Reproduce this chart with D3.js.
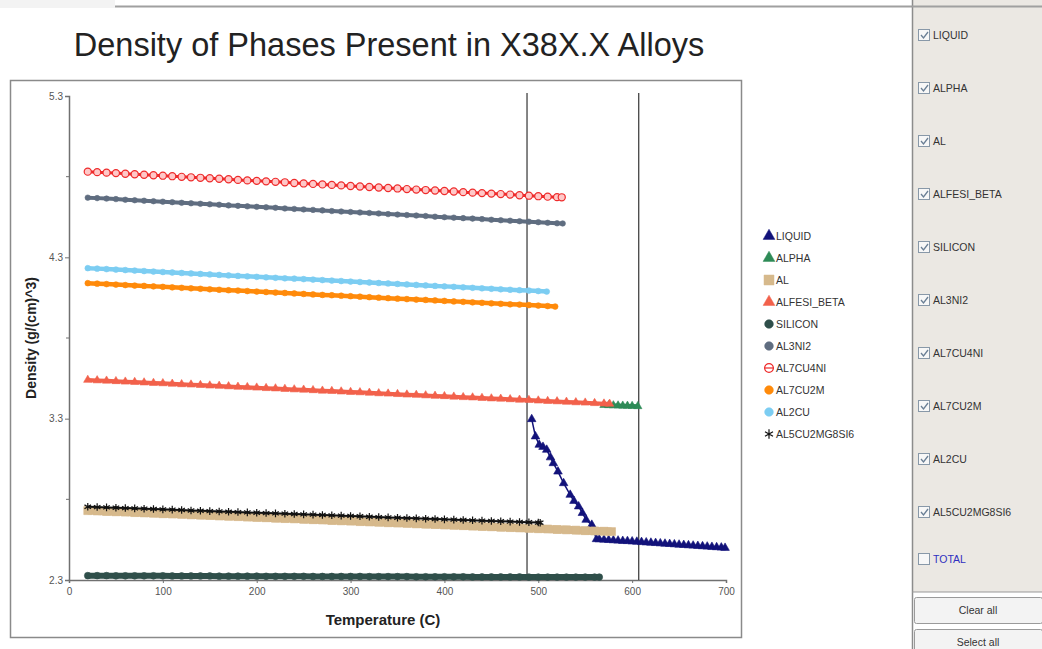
<!DOCTYPE html>
<html>
<head>
<meta charset="utf-8">
<script src="https://cdn.jsdelivr.net/npm/d3@7"></script>
<style>
  html, body { margin: 0; padding: 0; background: #ffffff; }
  svg { display: block; font-family: Arial, "Liberation Sans", sans-serif; }
</style>
</head>
<body>
<svg id="chart" width="1042" height="649"></svg>
<script>
// Phase densities (g/cm^3) versus temperature (C), as [temperature, density] pairs.
const liquid = [[493,3.297],[497,3.190],[501,3.138],[505,3.125],[509,3.107],[513,3.060],[516,3.024],[521,2.972],[527,2.900],[534,2.828],[538,2.790],[543,2.756],[547,2.715],[551,2.673],[557,2.642],[562,2.553],[565,2.552],[570,2.550],[575,2.548],[580,2.546],[585,2.544],[590,2.542],[595,2.541],[600,2.539],[605,2.537],[610,2.535],[615,2.533],[620,2.531],[625,2.529],[630,2.527],[635,2.525],[640,2.523],[645,2.521],[650,2.519],[655,2.517],[660,2.515],[665,2.513],[670,2.511],[675,2.509],[680,2.507],[685,2.505],[690,2.503],[695,2.501],[699,2.499]];
const alpha = [[570,3.384],[575,3.383],[580,3.382],[585,3.381],[590,3.380],[595,3.379],[600,3.378],[606,3.377]];
const al = [[20,2.730],[30,2.728],[40,2.725],[50,2.723],[60,2.721],[70,2.718],[80,2.716],[90,2.714],[100,2.711],[110,2.709],[120,2.707],[130,2.704],[140,2.702],[150,2.700],[160,2.697],[170,2.695],[180,2.693],[190,2.690],[200,2.688],[210,2.686],[220,2.683],[230,2.681],[240,2.679],[250,2.676],[260,2.674],[270,2.672],[280,2.669],[290,2.667],[300,2.665],[310,2.662],[320,2.660],[330,2.658],[340,2.655],[350,2.653],[360,2.651],[370,2.648],[380,2.646],[390,2.644],[400,2.641],[410,2.639],[420,2.637],[430,2.634],[440,2.632],[450,2.630],[460,2.627],[470,2.625],[480,2.623],[490,2.620],[500,2.618],[510,2.616],[520,2.613],[530,2.611],[540,2.609],[550,2.606],[560,2.604],[570,2.602],[578,2.600]];
const alfesiBeta = [[20,3.540],[30,3.537],[40,3.535],[50,3.532],[60,3.529],[70,3.527],[80,3.524],[90,3.521],[100,3.519],[110,3.516],[120,3.513],[130,3.511],[140,3.508],[150,3.505],[160,3.503],[170,3.500],[180,3.497],[190,3.495],[200,3.492],[210,3.489],[220,3.487],[230,3.484],[240,3.481],[250,3.479],[260,3.476],[270,3.473],[280,3.471],[290,3.468],[300,3.465],[310,3.463],[320,3.460],[330,3.457],[340,3.455],[350,3.452],[360,3.449],[370,3.447],[380,3.444],[390,3.441],[400,3.439],[410,3.436],[420,3.433],[430,3.431],[440,3.428],[450,3.425],[460,3.423],[470,3.420],[480,3.417],[490,3.415],[500,3.412],[510,3.409],[520,3.407],[530,3.404],[540,3.401],[550,3.399],[560,3.396],[570,3.393],[576,3.392]];
const silicon = [[20,2.327],[30,2.327],[40,2.327],[50,2.326],[60,2.326],[70,2.326],[80,2.326],[90,2.326],[100,2.326],[110,2.325],[120,2.325],[130,2.325],[140,2.325],[150,2.325],[160,2.324],[170,2.324],[180,2.324],[190,2.324],[200,2.324],[210,2.323],[220,2.323],[230,2.323],[240,2.323],[250,2.323],[260,2.322],[270,2.322],[280,2.322],[290,2.322],[300,2.322],[310,2.322],[320,2.321],[330,2.321],[340,2.321],[350,2.321],[360,2.321],[370,2.320],[380,2.320],[390,2.320],[400,2.320],[410,2.320],[420,2.320],[430,2.319],[440,2.319],[450,2.319],[460,2.319],[470,2.319],[480,2.319],[490,2.318],[500,2.318],[510,2.318],[520,2.318],[530,2.318],[540,2.318],[550,2.318],[560,2.318],[565,2.318]];
const al3ni2 = [[20,4.670],[30,4.667],[40,4.664],[50,4.661],[60,4.657],[70,4.654],[80,4.651],[90,4.648],[100,4.645],[110,4.642],[120,4.638],[130,4.635],[140,4.632],[150,4.629],[160,4.626],[170,4.622],[180,4.619],[190,4.616],[200,4.613],[210,4.610],[220,4.607],[230,4.603],[240,4.600],[250,4.597],[260,4.594],[270,4.591],[280,4.587],[290,4.584],[300,4.581],[310,4.578],[320,4.575],[330,4.572],[340,4.568],[350,4.565],[360,4.562],[370,4.559],[380,4.556],[390,4.552],[400,4.549],[410,4.546],[420,4.543],[430,4.540],[440,4.537],[450,4.533],[460,4.530],[470,4.527],[480,4.524],[490,4.521],[500,4.518],[510,4.514],[520,4.511],[526,4.510]];
const al7cu4ni = [[20,4.831],[30,4.828],[40,4.825],[50,4.822],[60,4.818],[70,4.815],[80,4.812],[90,4.809],[100,4.806],[110,4.803],[120,4.799],[130,4.796],[140,4.793],[150,4.790],[160,4.787],[170,4.784],[180,4.780],[190,4.777],[200,4.774],[210,4.771],[220,4.768],[230,4.765],[240,4.761],[250,4.758],[260,4.755],[270,4.752],[280,4.749],[290,4.746],[300,4.742],[310,4.739],[320,4.736],[330,4.733],[340,4.730],[350,4.727],[360,4.723],[370,4.720],[380,4.717],[390,4.714],[400,4.711],[410,4.708],[420,4.704],[430,4.701],[440,4.698],[450,4.695],[460,4.692],[470,4.689],[480,4.685],[490,4.682],[500,4.679],[510,4.676],[520,4.673],[525,4.672]];
const al7cu2m = [[20,4.140],[30,4.137],[40,4.134],[50,4.131],[60,4.128],[70,4.125],[80,4.123],[90,4.120],[100,4.117],[110,4.114],[120,4.111],[130,4.108],[140,4.105],[150,4.102],[160,4.099],[170,4.096],[180,4.094],[190,4.091],[200,4.088],[210,4.085],[220,4.082],[230,4.079],[240,4.076],[250,4.073],[260,4.070],[270,4.067],[280,4.065],[290,4.062],[300,4.059],[310,4.056],[320,4.053],[330,4.050],[340,4.047],[350,4.044],[360,4.041],[370,4.038],[380,4.036],[390,4.033],[400,4.030],[410,4.027],[420,4.024],[430,4.021],[440,4.018],[450,4.015],[460,4.012],[470,4.009],[480,4.007],[490,4.004],[500,4.001],[510,3.998],[518,3.995]];
const al2cu = [[20,4.233],[30,4.230],[40,4.227],[50,4.224],[60,4.221],[70,4.218],[80,4.215],[90,4.212],[100,4.209],[110,4.206],[120,4.203],[130,4.200],[140,4.197],[150,4.194],[160,4.191],[170,4.188],[180,4.185],[190,4.182],[200,4.179],[210,4.176],[220,4.173],[230,4.170],[240,4.168],[250,4.165],[260,4.162],[270,4.159],[280,4.156],[290,4.153],[300,4.150],[310,4.147],[320,4.144],[330,4.141],[340,4.138],[350,4.135],[360,4.132],[370,4.129],[380,4.126],[390,4.123],[400,4.120],[410,4.117],[420,4.114],[430,4.111],[440,4.108],[450,4.105],[460,4.102],[470,4.099],[480,4.096],[490,4.094],[500,4.091],[509,4.088]];
const al5cu2mg8si6 = [[20,2.754],[30,2.752],[40,2.750],[50,2.748],[60,2.746],[70,2.744],[80,2.742],[90,2.740],[100,2.738],[110,2.736],[120,2.734],[130,2.731],[140,2.729],[150,2.727],[160,2.725],[170,2.723],[180,2.721],[190,2.719],[200,2.717],[210,2.715],[220,2.713],[230,2.711],[240,2.709],[250,2.707],[260,2.705],[270,2.703],[280,2.701],[290,2.699],[300,2.697],[310,2.695],[320,2.692],[330,2.690],[340,2.688],[350,2.686],[360,2.684],[370,2.682],[380,2.680],[390,2.678],[400,2.676],[410,2.674],[420,2.672],[430,2.670],[440,2.668],[450,2.666],[460,2.664],[470,2.662],[480,2.660],[490,2.658],[500,2.656],[502,2.655]];

// Phase names in legend order and the transition temperatures marked by vertical lines
const phaseNames = ["LIQUID","ALPHA","AL","ALFESI_BETA","SILICON","AL3NI2","AL7CU4NI","AL7CU2M","AL2CU","AL5CU2MG8SI6"];
const transitionTemps = [488, 607];
const xTicks = [0, 100, 200, 300, 400, 500, 600, 700];
const yTicks = [2.3, 3.3, 4.3, 5.3];
const yMinorTicks = [2.8, 3.8, 4.8];
const panelLabels = ["LIQUID","ALPHA","AL","ALFESI_BETA","SILICON","AL3NI2","AL7CU4NI","AL7CU2M","AL2CU","AL5CU2MG8SI6","TOTAL"];

const seriesData = [liquid, alpha, al, alfesiBeta, silicon, al3ni2, al7cu4ni, al7cu2m, al2cu, al5cu2mg8si6];
// band = width of the connecting stroke drawn under the markers
const styles = [
  {color:"#12127a", symbol:d3.symbolTriangle, size:32, fill:true, band:1.5},
  {color:"#2e8b57", symbol:d3.symbolTriangle, size:30, fill:true, band:4},
  {color:"#d6b98c", symbol:d3.symbolSquare, size:64, fill:true, band:8},
  {color:"#f2614b", symbol:d3.symbolTriangle, size:30, fill:true, band:4},
  {color:"#2f4f4a", symbol:d3.symbolCircle, size:36, fill:true, band:6},
  {color:"#5f6d80", symbol:d3.symbolCircle, size:24, fill:true, band:4},
  {color:"#ee2b2b", symbol:d3.symbolCircle, size:40, fill:false, band:3},
  {color:"#ff8a0a", symbol:d3.symbolCircle, size:26, fill:true, band:4.5},
  {color:"#7ccdf2", symbol:d3.symbolCircle, size:26, fill:true, band:4.5},
  {color:"#111111", symbol:d3.symbolAsterisk, size:40, fill:false, band:2}
];

const svg = d3.select("#chart");

// window chrome above the chart
svg.append("rect").attr("x", 0).attr("y", 0).attr("width", 115).attr("height", 8).attr("fill", "#f3f3f3");
svg.append("line").attr("x1", 115).attr("x2", 912).attr("y1", 6.5).attr("y2", 6.5)
  .attr("stroke", "#a0a0a0").attr("stroke-width", 2);

// title
svg.append("text").attr("x", 389).attr("y", 56).attr("text-anchor", "middle")
  .attr("font-size", 32.5).attr("fill", "#222").text("Density of Phases Present in X38X.X Alloys");

// chart frame
svg.append("rect").attr("x", 10.5).attr("y", 80.5).attr("width", 731).attr("height", 557)
  .attr("fill", "none").attr("stroke", "#8a8a8a").attr("stroke-width", 1.5);

const x = d3.scaleLinear().domain([0, 700]).range([69, 726]);
const y = d3.scaleLinear().domain([2.3, 5.3]).range([580, 96]);

const plot = svg.append("g");

// axes
const xAxis = plot.append("g").attr("transform", "translate(0,580)")
  .call(d3.axisBottom(x).tickValues(xTicks).tickSize(3).tickPadding(5).tickFormat(d3.format("d")));
const yAxis = plot.append("g").attr("transform", "translate(69,0)")
  .call(d3.axisLeft(y).tickValues(yTicks).tickSize(4).tickPadding(2).tickFormat(d3.format(".1f")));
[xAxis, yAxis].forEach(a => {
  a.select(".domain").attr("stroke", "#707070").attr("stroke-width", 1.5);
  a.selectAll(".tick line").attr("stroke", "#707070");
  a.selectAll("text").attr("fill", "#555").attr("font-size", 10).attr("font-family", "Arial, sans-serif");
});
plot.append("g").selectAll("line").data(yMinorTicks).join("line")
  .attr("x1", 66).attr("x2", 69).attr("y1", d => y(d)).attr("y2", d => y(d)).attr("stroke", "#707070");

// axis titles
svg.append("text").attr("transform", "translate(36,338) rotate(-90)").attr("text-anchor", "middle")
  .attr("font-size", 14).attr("font-weight", "bold").attr("fill", "#222").text("Density (g/(cm)^3)");
svg.append("text").attr("x", 383).attr("y", 625).attr("text-anchor", "middle")
  .attr("font-size", 15).attr("font-weight", "bold").attr("fill", "#222").text("Temperature (C)");

// transition temperature markers
plot.append("g").selectAll("line").data(transitionTemps).join("line")
  .attr("x1", d => x(d)).attr("x2", d => x(d)).attr("y1", 93).attr("y2", 580)
  .attr("stroke", "#444").attr("stroke-width", 1.3);

// series: connecting band plus markers
const line = d3.line().x(d => x(d[0])).y(d => y(d[1]));
seriesData.forEach((data, i) => {
  const s = styles[i];
  const g = plot.append("g");
  g.append("path").datum(data).attr("d", line).attr("fill", "none")
    .attr("stroke", s.color).attr("stroke-width", s.band);
  const sym = d3.symbol().type(s.symbol).size(s.size);
  g.selectAll("path.m").data(data).join("path").attr("class", "m")
    .attr("transform", d => `translate(${x(d[0])},${y(d[1])})`)
    .attr("d", sym)
    .attr("fill", s.fill ? s.color : (s.symbol === d3.symbolCircle ? "#ffc8c8" : "none"))
    .attr("stroke", s.color).attr("stroke-width", s.fill ? 0.6 : 1.2);
});

// legend
const legend = svg.append("g");
phaseNames.forEach((name, i) => {
  const s = styles[i];
  const ly = 236 + i * 22;
  const sym = d3.symbol().type(s.symbol).size(i === 2 ? 100 : 60);
  legend.append("path").attr("transform", `translate(769,${ly})`).attr("d", sym)
    .attr("fill", s.fill ? s.color : (s.symbol === d3.symbolCircle ? "#fff" : "none"))
    .attr("stroke", s.color).attr("stroke-width", s.fill ? 0.5 : 1.2);
  if (i === 6) {
    legend.append("line").attr("x1", 764).attr("x2", 774).attr("y1", ly).attr("y2", ly)
      .attr("stroke", s.color).attr("stroke-width", 1.2);
  }
  legend.append("text").attr("x", 776).attr("y", ly + 4).attr("font-size", 10.5)
    .attr("fill", "#333").text(name);
});

// phase selection panel
const panel = svg.append("g");
panel.append("rect").attr("x", 912).attr("y", 0).attr("width", 130).attr("height", 592).attr("fill", "#ebe8e3");
panel.append("line").attr("x1", 912.5).attr("x2", 912.5).attr("y1", 0).attr("y2", 649).attr("stroke", "#8c8c8c").attr("stroke-width", 1.5);
panel.append("line").attr("x1", 912).attr("x2", 1042).attr("y1", 6.5).attr("y2", 6.5).attr("stroke", "#a0a0a0").attr("stroke-width", 2);
panelLabels.forEach((name, i) => {
  const cy = i < 10 ? 35 + i * 53 : 559;
  const checked = name !== "TOTAL";
  panel.append("rect").attr("x", 918.5).attr("y", cy - 5.5).attr("width", 11).attr("height", 11)
    .attr("fill", "#f7f7f7").attr("stroke", "#8898a8");
  if (checked) {
    panel.append("path").attr("d", `M921,${cy} L923.5,${cy + 3} L928,${cy - 3}`)
      .attr("fill", "none").attr("stroke", "#6a7f95").attr("stroke-width", 1.3);
  }
  panel.append("text").attr("x", 933).attr("y", cy + 4).attr("font-size", 10.5)
    .attr("fill", checked ? "#333" : "#3030c0").text(name);
});
panel.append("line").attr("x1", 912).attr("x2", 1042).attr("y1", 592).attr("y2", 592).attr("stroke", "#999");
[["Clear all", 597], ["Select all", 629]].forEach(([label, by]) => {
  panel.append("rect").attr("x", 914.5).attr("y", by + 0.5).attr("width", 128).attr("height", 26)
    .attr("rx", 2).attr("fill", "#f3f3f3").attr("stroke", "#9a9a9a");
  panel.append("text").attr("x", 978).attr("y", by + 17).attr("text-anchor", "middle")
    .attr("font-size", 10.5).attr("fill", "#333").text(label);
});
</script>
</body>
</html>
